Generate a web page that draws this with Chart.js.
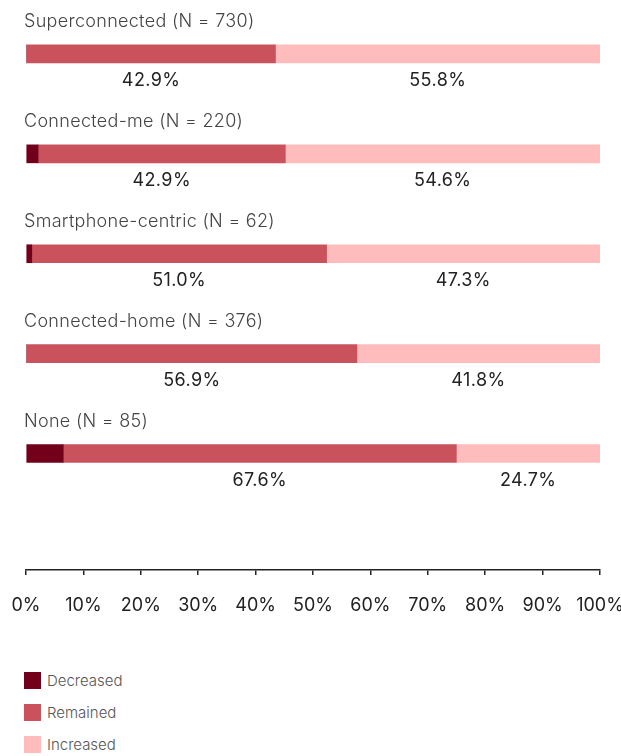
<!DOCTYPE html>
<html>
<head>
<meta charset="utf-8">
<script src="https://cdn.jsdelivr.net/npm/chart.js@4/dist/chart.umd.min.js"></script>
<style>
  body { margin: 0; background: #fff; }
  #wrap { position: relative; width: 621px; height: 756px; overflow: hidden; }
  #legend { position: absolute; left: 24px; top: 672px; font-family: Inter, sans-serif; font-weight: 300; font-size: 15px; color: #555; }
  #legend div { display: flex; align-items: center; height: 17px; margin-bottom: 15px; }
  #legend span { display: inline-block; width: 17px; height: 17px; margin-right: 6px; }
</style>
</head>
<body>
<div id="wrap">
  <canvas id="shares" width="640" height="640"></canvas>
  <div id="legend"></div>
</div>
<script>
  // Segments, N per segment, and share of each answer (%)
  var groups = ['Superconnected', 'Connected-me', 'Smartphone-centric', 'Connected-home', 'None'];
  var sampleSizes = [730, 220, 62, 376, 85];
  var decreased = [0, 2.1, 1.0, 0, 6.4];
  var remained = [42.9, 42.9, 51.0, 56.9, 67.6];
  var increased = [55.8, 54.6, 47.3, 41.8, 24.7];
  var xTicks = [0, 10, 20, 30, 40, 50, 60, 70, 80, 90, 100];

  var seriesNames = ['Decreased', 'Remained', 'Increased'];
  var seriesValues = [decreased, remained, increased];
  var seriesColors = ['#72001a', '#c9525c', '#ffbcbc'];

  // bars are stretched to the full row, like a percent-stacked chart
  var rowTotals = groups.map(function (g, i) {
    return decreased[i] + remained[i] + increased[i];
  });

  var datasets = seriesNames.map(function (name, s) {
    return {
      label: name,
      backgroundColor: seriesColors[s],
      barThickness: 18,
      raw: seriesValues[s],
      data: seriesValues[s].map(function (v, i) {
        return { x: v / rowTotals[i] * 100, y: i };
      })
    };
  });

  // group titles above the bars, values below the middle of each segment
  var barText = {
    id: 'barText',
    afterDatasetsDraw: function (chart) {
      var ctx = chart.ctx;
      var area = chart.chartArea;
      ctx.save();
      ctx.textBaseline = 'middle';

      var first = chart.getDatasetMeta(0).data;
      ctx.font = '300 18px Inter, sans-serif';
      ctx.letterSpacing = '0.3px';
      ctx.fillStyle = '#444';
      ctx.textAlign = 'left';
      first.forEach(function (bar, i) {
        ctx.fillText(groups[i] + ' (N = ' + sampleSizes[i] + ')', area.left - 2, bar.y - 32);
      });

      ctx.font = '18px Inter, sans-serif';
      ctx.letterSpacing = '0.4px';
      ctx.fillStyle = '#222';
      ctx.textAlign = 'center';
      [1, 2].forEach(function (d) {
        var ds = chart.data.datasets[d];
        chart.getDatasetMeta(d).data.forEach(function (bar, i) {
          ctx.fillText(ds.raw[i].toFixed(1) + '%', (bar.x + bar.base) / 2, bar.y + 27);
        });
      });
      ctx.restore();
    }
  };

  var chart = new Chart(document.getElementById('shares'), {
    type: 'bar',
    data: { datasets: datasets },
    options: {
      indexAxis: 'y',
      responsive: false,
      animation: false,
      devicePixelRatio: 1,
      layout: { padding: { left: 26, right: 40, top: 4, bottom: 4 } },
      scales: {
        x: {
          stacked: true,
          min: 0,
          max: 100,
          afterBuildTicks: function (scale) {
            scale.ticks = xTicks.map(function (v) { return { value: v }; });
          },
          ticks: {
            padding: 3,
            color: '#222',
            font: { family: 'Inter, sans-serif', size: 18, lineHeight: 3.05 },
            callback: function (v) { return v + '%'; }
          },
          grid: { drawOnChartArea: false, tickLength: 5, color: '#222', lineWidth: 1.5 },
          border: { display: true, color: '#222', width: 1.5 }
        },
        y: {
          type: 'linear',
          stacked: true,
          reverse: true,
          offset: false,
          min: -0.5,
          max: 5.167,
          display: false
        }
      },
      plugins: {
        legend: { display: false },
        tooltip: { enabled: false }
      }
    },
    plugins: [barText]
  });

  // legend list under the chart
  var legendBox = document.getElementById('legend');
  chart.data.datasets.forEach(function (ds) {
    var row = document.createElement('div');
    var sw = document.createElement('span');
    sw.style.background = ds.backgroundColor;
    row.appendChild(sw);
    row.appendChild(document.createTextNode(ds.label));
    legendBox.appendChild(row);
  });
</script>
</body>
</html>
